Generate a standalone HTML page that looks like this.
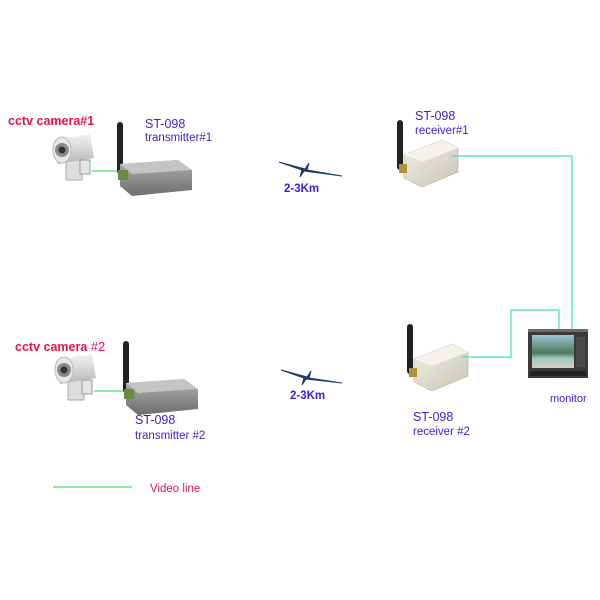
<!DOCTYPE html>
<html><head><meta charset="utf-8"><style>
body{margin:0;background:#fff}
svg{display:block}
text{font-family:"Liberation Sans",sans-serif}
</style></head><body>
<svg width="600" height="600" viewBox="0 0 600 600" xmlns="http://www.w3.org/2000/svg">
<defs>
<linearGradient id="cam" x1="0" y1="0" x2="0" y2="1"><stop offset="0" stop-color="#f2f2f2"/><stop offset="1" stop-color="#b8b8b8"/></linearGradient>
<linearGradient id="tx" x1="0" y1="0" x2="0" y2="1"><stop offset="0" stop-color="#b0b0b0"/><stop offset="1" stop-color="#6d6d6d"/></linearGradient>
<linearGradient id="rx" x1="0" y1="0" x2="1" y2="1"><stop offset="0" stop-color="#f0eee4"/><stop offset="1" stop-color="#c9c6b8"/></linearGradient>
<linearGradient id="scr" x1="0" y1="0" x2="0" y2="1"><stop offset="0" stop-color="#9fc3d8"/><stop offset="0.55" stop-color="#4a7a56"/><stop offset="0.7" stop-color="#9cc5c6"/><stop offset="1" stop-color="#d9d2b8"/></linearGradient>
<g id="camera">
<rect x="14" y="26" width="16" height="22" fill="#ddd" stroke="#aaa"/>
<path d="M2,8 L38,2 L42,26 L6,32 Z" fill="url(#cam)"/>
<ellipse cx="10" cy="18" rx="9" ry="13" fill="#e8e8e8" stroke="#bbb"/>
<circle cx="10" cy="18" r="7" fill="#8a8a8a"/>
<circle cx="10" cy="18" r="3.5" fill="#333"/>
<rect x="28" y="28" width="10" height="14" fill="#e5e5e5" stroke="#999"/>
</g>
<g id="trans">
<rect x="-3" y="0" width="6" height="52" rx="3" fill="#222"/>
<path d="M0,42 L58,38 L72,48 L72,68 L12,74 L0,64 Z" fill="url(#tx)"/>
<path d="M0,42 L58,38 L72,48 L12,52 Z" fill="#c4c4c4"/>
<rect x="-2" y="48" width="10" height="10" fill="#6b8a40"/>
</g>
<g id="recv">
<rect x="-3" y="0" width="6" height="50" rx="3" fill="#222"/>
<path d="M4,35 L42,20 L58,28 L58,52 L22,67 L4,58 Z" fill="url(#rx)" stroke="#b5b2a4" stroke-width="0.6"/>
<path d="M4,35 L42,20 L58,28 L22,42 Z" fill="#f4f2ea"/>
<rect x="-1" y="44" width="8" height="9" fill="#b59040"/>
</g>
</defs>

<text x="8" y="125" font-size="12.5" font-weight="bold" fill="#e8134b">cctv camera#1</text>
<use href="#camera" x="52" y="132"/>
<line x1="92" y1="171" x2="123" y2="171" stroke="#3ee86a" stroke-width="1.2"/>
<use href="#trans" x="120" y="122"/>
<text x="145" y="128" font-size="12.5" fill="#3b1fd6">ST-098</text>
<text x="145" y="141" font-size="11.5" fill="#3b1fd6">transmitter#1</text>

<path d="M279,162 L305,169 L309,163 L307,170 L342,176 L304,171 L300,177 L302,170 Z" fill="#1d3a6a" stroke="#1d3a6a" stroke-width="1"/>
<text x="284" y="192" font-size="11.5" font-weight="bold" fill="#3b1fd6">2-3Km</text>

<use href="#recv" x="400" y="120"/>
<text x="415" y="120" font-size="12.5" fill="#3b1fd6">ST-098</text>
<text x="415" y="134" font-size="11.5" fill="#3b1fd6">receiver#1</text>
<polyline points="452,156 572,156 572,330" fill="none" stroke="#3ee8a0" stroke-width="1.2"/>

<text x="15" y="351" font-size="12.5" font-weight="bold" fill="#e8134b">cctv camera <tspan font-weight="normal" font-size="13">#2</tspan></text>
<use href="#camera" x="54" y="352"/>
<line x1="94" y1="391" x2="127" y2="391" stroke="#3ee86a" stroke-width="1.2"/>
<use href="#trans" x="126" y="341"/>
<text x="135" y="424" font-size="12.5" fill="#3b1fd6">ST-098</text>
<text x="135" y="439" font-size="11.5" fill="#3b1fd6">transmitter #2</text>

<path d="M281,370 L307,377 L311,371 L309,378 L342,383 L306,379 L302,385 L304,378 Z" fill="#1d3a6a" stroke="#1d3a6a" stroke-width="1"/>
<text x="290" y="399" font-size="11.5" font-weight="bold" fill="#3b1fd6">2-3Km</text>

<use href="#recv" x="410" y="324"/>
<text x="413" y="421" font-size="12.5" fill="#3b1fd6">ST-098</text>
<text x="413" y="435" font-size="11.5" fill="#3b1fd6">receiver #2</text>
<polyline points="462,357 511,357 511,310 559,310 559,330" fill="none" stroke="#3ee8a0" stroke-width="1.2"/>

<rect x="528" y="329" width="60" height="49" fill="#3a3a3a"/>
<rect x="528" y="329" width="60" height="3" fill="#6a6a6a"/>
<rect x="532" y="335" width="42" height="33" fill="url(#scr)"/>
<rect x="576" y="337" width="9" height="30" fill="#4a4a4a"/>
<rect x="530" y="371" width="56" height="5" fill="#222"/>
<text x="550" y="402" font-size="11" fill="#3b1fd6">monitor</text>

<line x1="53" y1="487" x2="132" y2="487" stroke="#3ee86a" stroke-width="1.2"/>
<text x="150" y="492" font-size="11.5" fill="#e8134b">Video line</text>
</svg>
</body></html>
